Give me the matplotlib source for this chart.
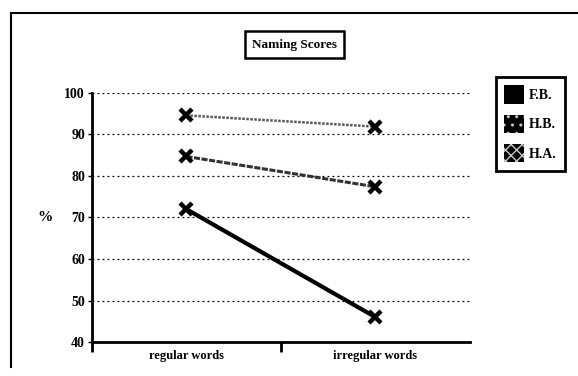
import matplotlib.pyplot as plt
from matplotlib.lines import Line2D
from matplotlib.patches import Patch

plt.rcParams['font.family'] = ['Liberation Serif', 'DejaVu Serif']
plt.rcParams['font.weight'] = 'bold'
plt.rcParams['axes.labelweight'] = 'bold'
plt.rcParams['hatch.linewidth'] = 1.0
plt.rcParams['hatch.color'] = '#c8c8c8'

categories = ['regular words', 'irregular words']
fb = [72, 46]
hb = [84.7, 77.4]
ha = [94.6, 91.9]
yticks = [40, 50, 60, 70, 80, 90, 100]

fig = plt.figure(figsize=(5.78, 3.76), dpi=100)
ax = fig.add_axes([0.159, 0.0904, 0.654, 0.6623])

xpos = [0.5, 1.5]
mk = dict(marker='x', ms=9, mew=3.2, mec='black', zorder=3)
ax.plot(xpos, ha, color='#555555', lw=1.8, linestyle=(0, (1, 0.6)), **mk)
ax.plot(xpos, hb, color='#333333', lw=2.2, linestyle=(0, (2, 0.5)), **mk)
ax.plot(xpos, fb, color='black', lw=3, **mk)

ax.set_xlim(0, 2)
ax.set_ylim(40, 100)
ax.set_yticks(yticks)
ax.set_xticks([0, 1])
ax.set_xticklabels([])
ax.set_xticks(xpos, minor=True)
ax.set_xticklabels(categories, minor=True)
ax.tick_params(axis='x', which='major', length=7, width=2, direction='out')
ax.tick_params(axis='x', which='minor', length=0, pad=6, labelsize=9)
ax.tick_params(axis='y', length=3, width=1, labelsize=10, pad=2)
ax.yaxis.grid(True, linestyle=(0, (1.5, 2.5)), color='black', lw=0.9)
ax.set_axisbelow(True)

for s in ['top', 'right']:
    ax.spines[s].set_visible(False)
ax.spines['left'].set_linewidth(2)
ax.spines['bottom'].set_linewidth(2)

ax.set_ylabel('%', rotation=0, fontsize=11, labelpad=14, va='center')

handles = [
    Patch(facecolor='black'),
    Patch(facecolor='black', hatch='..'),
    Patch(facecolor='black', hatch='xxx'),
]
leg = fig.legend(handles, ['F.B.', 'H.B.', 'H.A.'],
                 loc='upper left', bbox_to_anchor=(0.858, 0.795), borderaxespad=0,
                 fancybox=False, framealpha=1, edgecolor='black',
                 handlelength=1.4, handleheight=1.7, handletextpad=0.4,
                 labelspacing=0.75, borderpad=0.6, fontsize=10)
leg.get_frame().set_linewidth(2)

fig.text(0.5095, 0.8816, 'Naming Scores', ha='center', va='center', fontsize=9.5,
         bbox=dict(boxstyle='square,pad=0.55', fc='white', ec='black', lw=1.8))

# outer frame
fig.add_artist(Line2D([0.019, 1.0], [0.965, 0.965], color='black', lw=1.5,
                      transform=fig.transFigure))
fig.add_artist(Line2D([0.019, 0.019], [0.965, 0.024], color='black', lw=1.5,
                      transform=fig.transFigure))

fig.savefig('out.png', dpi=100)
